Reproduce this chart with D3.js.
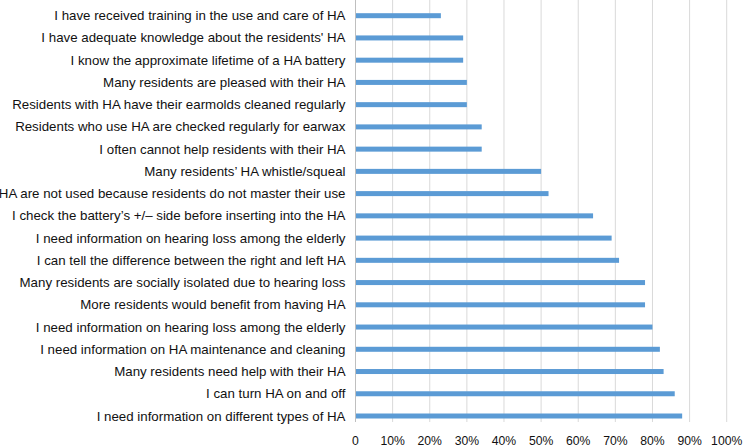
<!DOCTYPE html>
<html>
<head>
<meta charset="utf-8">
<script src="https://cdn.jsdelivr.net/npm/d3@7"></script>
<style>
  html, body { margin: 0; padding: 0; background: #fff; }
  svg { display: block; }
</style>
</head>
<body>
<div id="chart"></div>
<script>
const categories = [
  "I have received training in the use and care of HA",
  "I have adequate knowledge about the residents' HA",
  "I know the approximate lifetime of a HA battery",
  "Many residents are pleased with their HA",
  "Residents with HA have their earmolds cleaned regularly",
  "Residents who use HA are checked regularly for earwax",
  "I often cannot help residents with their HA",
  "Many residents\u2019 HA whistle/squeal",
  "HA are not used because residents do not master their use",
  "I check the battery\u2019s +/\u2013 side before inserting into the HA",
  "I need information on hearing loss among the elderly",
  "I can tell the difference between the right and left HA",
  "Many residents are socially isolated due to hearing loss",
  "More residents would benefit from having HA",
  "I need information on hearing loss among the elderly ",
  "I need information on HA maintenance and cleaning",
  "Many residents need help with their HA",
  "I can turn HA on and off",
  "I need information on different types of HA"
];
const values = [23, 29, 29, 30, 30, 34, 34, 50, 52, 64, 69, 71, 78, 78, 80, 82, 83, 86, 88];
const tickValues = [0, 10, 20, 30, 40, 50, 60, 70, 80, 90, 100];
const tickLabels = ["0", "10%", "20%", "30%", "40%", "50%", "60%", "70%", "80%", "90%", "100%"];

const W = 746, H = 447;
const svg = d3.select("#chart").append("svg").attr("width", W).attr("height", H);

const x = d3.scaleLinear().domain([0, 100]).range([355.5, 726.7]);
const y = d3.scalePoint().domain(categories).range([15.7, 416]);
const barH = 5;
const gridTop = 0, gridBottom = 422;

// gridlines
svg.append("g").selectAll("line").data(tickValues.slice(1)).join("line")
  .attr("x1", d => x(d)).attr("x2", d => x(d))
  .attr("y1", gridTop).attr("y2", gridBottom)
  .attr("stroke", "#d9d9d9").attr("stroke-width", 1);

// vertical axis line
svg.append("line")
  .attr("x1", x(0)).attr("x2", x(0)).attr("y1", gridTop).attr("y2", gridBottom)
  .attr("stroke", "#bfbfbf").attr("stroke-width", 1);

// bars
svg.append("g").selectAll("rect").data(values).join("rect")
  .attr("x", x(0) + 0.5)
  .attr("y", (d, i) => y(categories[i]) - barH / 2)
  .attr("width", d => x(d) - x(0) - 0.5)
  .attr("height", barH)
  .attr("fill", "#5b9bd5");

// category labels
svg.append("g").selectAll("text").data(categories).join("text")
  .attr("x", x(0) - 10)
  .attr("y", d => y(d))
  .attr("dy", "0.34em")
  .attr("text-anchor", "end")
  .attr("font-family", "Liberation Sans, Arial, sans-serif")
  .attr("font-size", 13.3)
  .attr("fill", "#111")
  .text(d => d.trim());

// tick labels
svg.append("g").selectAll("text").data(tickValues).join("text")
  .attr("x", d => x(d))
  .attr("y", 444.5)
  .attr("text-anchor", "middle")
  .attr("font-family", "Liberation Sans, Arial, sans-serif")
  .attr("font-size", 12.2)
  .attr("fill", "#111")
  .text((d, i) => tickLabels[i]);
</script>
</body>
</html>
